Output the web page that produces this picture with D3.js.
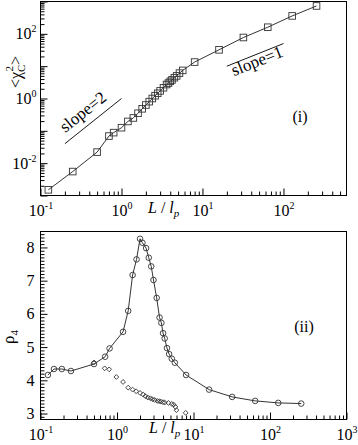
<!DOCTYPE html>
<html lang="en">
<head>
<meta charset="UTF-8">
<title>chi_C^2 and rho_4 vs L/l_p</title>
<script src="https://cdnjs.cloudflare.com/ajax/libs/d3/7.8.5/d3.min.js"></script>
<style>
  body { margin: 0; background: #fff; }
  svg { display: block; font-family: "Liberation Serif", "DejaVu Serif", serif; }
</style>
</head>
<body>
<svg width="358" height="445"></svg>
<script>
// panel (i): <chi_C^2> against L/l_p
var chiL = [0.125, 0.25, 0.5, 0.7, 0.8, 1.0, 1.2, 1.4, 1.6, 1.8, 2.0, 2.2, 2.4, 2.6, 2.8, 3.0, 3.3, 3.6, 3.8, 4.0, 4.2, 4.5, 4.8, 5.2, 5.7, 8, 16, 32, 64, 128, 256];
var chiVal = [0.0015, 0.0055, 0.022, 0.069, 0.088, 0.125, 0.195, 0.25, 0.35, 0.48, 0.63, 0.80, 1.0, 1.22, 1.45, 1.72, 2.15, 2.7, 3.0, 3.4, 3.75, 4.4, 5.0, 6.1, 7.4, 13.4, 32, 77, 160, 358, 728];

// panel (ii): rho_4, circles (joined) and diamonds
var rhoL = [0.125, 0.15, 0.19, 0.25, 0.5, 0.7, 0.8, 1.2, 1.4, 1.6, 1.8, 2.0, 2.15, 2.4, 2.6, 2.8, 3.0, 3.3, 3.6, 3.8, 4.0, 4.2, 4.5, 4.8, 5.2, 5.7, 8, 16, 32, 64, 128, 256];
var rhoVal = [4.16, 4.34, 4.34, 4.28, 4.49, 4.71, 4.96, 5.46, 6.09, 7.17, 7.64, 8.26, 8.14, 7.98, 7.69, 7.43, 7.02, 6.48, 5.89, 5.73, 5.42, 5.26, 4.97, 4.79, 4.65, 4.53, 4.16, 3.72, 3.50, 3.38, 3.32, 3.30];
var diaL = [0.5, 0.69, 0.79, 0.98, 1.2, 1.4, 1.6, 1.78, 2.0, 2.2, 2.35, 2.53, 2.73, 2.9, 3.1, 3.36, 3.55, 3.75, 4.0, 4.2, 4.7, 5.2, 5.5, 5.8, 6.0, 7.9];
var diaVal = [4.54, 4.36, 4.33, 4.10, 3.95, 3.78, 3.72, 3.67, 3.62, 3.57, 3.52, 3.48, 3.46, 3.43, 3.41, 3.38, 3.37, 3.36, 3.34, 3.33, 3.32, 3.29, 3.27, 3.20, 3.10, 3.02];

// guide lines (L, value) end points
var slope2 = [[0.2, 0.04], [1.0, 1.0]];
var slope1 = [[20, 10], [100, 50]];

// ticks
var xTicksTop = [0.1, 1, 10, 100];
var xTicksBot = [0.1, 1, 10, 100, 1000];
var yTicksTop = [1e-3, 1e-2, 1e-1, 1, 10, 100, 1000];
var yLabelsTop = [1e-2, 1, 100];
var yTicksBot = [3, 4, 5, 6, 7, 8];

var svg = d3.select("svg");

var xTop = d3.scaleLog().domain([0.1, 600]).range([40.5, 346.5]);
var yTop = d3.scaleLog().domain([1e-3, 1e3]).range([195.5, 1.5]);
var xBot = d3.scaleLog().domain([0.1, 1000]).range([40.5, 346.5]);
var yBot = d3.scaleLinear().domain([2.82, 8.48]).range([419.5, 231.5]);

function minorLog(scale) {
  var d = scale.domain(), out = [];
  for (var e = Math.floor(Math.log10(d[0])); e <= Math.ceil(Math.log10(d[1])); e++) {
    for (var m = 2; m <= 9; m++) {
      var v = m * Math.pow(10, e);
      if (v > d[0] && v < d[1]) out.push(v);
    }
  }
  return out;
}

function powText(t, d) {
  var e = Math.round(Math.log10(d));
  t.text(null);
  t.append("tspan").text("10");
  t.append("tspan").attr("font-size", 10).attr("dy", -7).text(e);
}

function xAxis(x, y0, majors) {
  var g = svg.append("g").attr("transform", "translate(0," + y0 + ")")
    .call(d3.axisBottom(x).tickValues(majors).tickSizeInner(-7).tickSizeOuter(0));
  g.attr("font-family", null).attr("font-size", 16);
  g.select(".domain").remove();
  g.selectAll("text").attr("y", 20).attr("dy", null).each(function (d) { powText(d3.select(this), d); });
  var m = svg.append("g").attr("transform", "translate(0," + y0 + ")")
    .call(d3.axisBottom(x).tickValues(minorLog(x)).tickSizeInner(-4).tickSizeOuter(0).tickFormat(""));
  m.select(".domain").remove();
}

function frame(x, y) {
  svg.append("rect")
    .attr("x", x.range()[0]).attr("y", y.range()[1])
    .attr("width", x.range()[1] - x.range()[0])
    .attr("height", y.range()[0] - y.range()[1])
    .attr("fill", "none").attr("stroke", "#000").attr("stroke-width", 1);
}

// ---------- panel (i)
frame(xTop, yTop);
xAxis(xTop, 195.5, xTicksTop);

var gy = svg.append("g").attr("transform", "translate(40.5,0)")
  .call(d3.axisLeft(yTop).tickValues(yTicksTop).tickSizeInner(-7).tickSizeOuter(0).tickPadding(4));
gy.attr("font-family", null).attr("font-size", 16);
gy.select(".domain").remove();
gy.selectAll("text").each(function (d) {
  if (yLabelsTop.indexOf(d) < 0) d3.select(this).text("");
  else powText(d3.select(this), d);
});
var gym = svg.append("g").attr("transform", "translate(40.5,0)")
  .call(d3.axisLeft(yTop).tickValues(minorLog(yTop)).tickSizeInner(-4).tickSizeOuter(0).tickFormat(""));
gym.select(".domain").remove();

var chiPts = chiL.map(function (l, i) { return [l, chiVal[i]]; });
svg.append("path").datum(chiPts)
  .attr("fill", "none").attr("stroke", "#000").attr("stroke-width", 0.8)
  .attr("d", d3.line().x(function (d) { return xTop(d[0]); }).y(function (d) { return yTop(d[1]); }));
svg.append("g").selectAll("rect").data(chiPts).enter().append("rect")
  .attr("x", function (d) { return xTop(d[0]) - 3.3; })
  .attr("y", function (d) { return yTop(d[1]) - 3.3; })
  .attr("width", 6.6).attr("height", 6.6)
  .attr("fill", "none").attr("stroke", "#333").attr("stroke-width", 0.9);

function guide(pts, tx, ty, label) {
  var p0 = [xTop(pts[0][0]), yTop(pts[0][1])], p1 = [xTop(pts[1][0]), yTop(pts[1][1])];
  svg.append("line").attr("x1", p0[0]).attr("y1", p0[1]).attr("x2", p1[0]).attr("y2", p1[1])
    .attr("stroke", "#000").attr("stroke-width", 0.9);
  var ang = Math.atan2(p1[1] - p0[1], p1[0] - p0[0]) * 180 / Math.PI;
  svg.append("text")
    .attr("transform", "translate(" + p0[0] + "," + p0[1] + ") rotate(" + ang + ")")
    .attr("x", tx).attr("y", ty).attr("font-size", 17).text(label);
}
guide(slope2, 7, -8, "slope=2");
guide(slope1, 3, 12, "slope=1");

svg.append("text").attr("x", 300).attr("y", 122).attr("text-anchor", "middle")
  .attr("font-size", 16).text("(i)");

function xLabel(x0, y0) {
  var t = svg.append("text").attr("x", x0).attr("y", y0).attr("font-size", 16);
  t.append("tspan").attr("font-style", "italic").text("L");
  t.append("tspan").text(" / ");
  t.append("tspan").attr("font-style", "italic").text("l");
  t.append("tspan").attr("font-style", "italic").attr("font-size", 11).attr("dy", 4).text("p");
}
xLabel(148, 213);

var yl = svg.append("text").attr("transform", "translate(21,72) rotate(-90)")
  .attr("text-anchor", "middle").attr("font-size", 16);
yl.append("tspan").text("<χ");
yl.append("tspan").attr("font-size", 11).attr("dy", 4).text("C");
yl.append("tspan").attr("font-size", 11).attr("dx", -7).attr("dy", -12).text("2");
yl.append("tspan").attr("dx", 1).attr("dy", 8).text(">");

// ---------- panel (ii)
frame(xBot, yBot);
xAxis(xBot, 419.5, xTicksBot);

var gb = svg.append("g").attr("transform", "translate(40.5,0)")
  .call(d3.axisLeft(yBot).tickValues(yTicksBot).tickSizeInner(-7).tickSizeOuter(0).tickPadding(6).tickFormat(d3.format("d")));
gb.attr("font-family", null).attr("font-size", 16);
gb.select(".domain").remove();
var yMinor = d3.range(29, 85).map(function (v) { return v / 10; })
  .filter(function (v) { return Math.abs(v - Math.round(v)) > 1e-6; });
var gbm = svg.append("g").attr("transform", "translate(40.5,0)")
  .call(d3.axisLeft(yBot).tickValues(yMinor).tickSizeInner(-4).tickSizeOuter(0).tickFormat(""));
gbm.select(".domain").remove();

var rhoPts = rhoL.map(function (l, i) { return [l, rhoVal[i]]; });
svg.append("path").datum(rhoPts)
  .attr("fill", "none").attr("stroke", "#000").attr("stroke-width", 0.8)
  .attr("d", d3.line().x(function (d) { return xBot(d[0]); }).y(function (d) { return yBot(d[1]); }));
svg.append("g").selectAll("circle").data(rhoPts).enter().append("circle")
  .attr("cx", function (d) { return xBot(d[0]); })
  .attr("cy", function (d) { return yBot(d[1]); })
  .attr("r", 2.8)
  .attr("fill", "none").attr("stroke", "#333").attr("stroke-width", 0.9);

var diaPts = diaL.map(function (l, i) { return [l, diaVal[i]]; });
svg.append("g").selectAll("path").data(diaPts).enter().append("path")
  .attr("transform", function (d) { return "translate(" + xBot(d[0]) + "," + yBot(d[1]) + ")"; })
  .attr("d", "M0,-2.4L2.4,0L0,2.4L-2.4,0Z")
  .attr("fill", "none").attr("stroke", "#333").attr("stroke-width", 0.9);

svg.append("text").attr("x", 304).attr("y", 332).attr("text-anchor", "middle")
  .attr("font-size", 16).text("(ii)");

xLabel(149, 433);

var rl = svg.append("text").attr("transform", "translate(14,337) rotate(-90)")
  .attr("text-anchor", "middle").attr("font-size", 17);
rl.append("tspan").text("ρ");
rl.append("tspan").attr("font-size", 11).attr("dy", 4).text("4");
</script>
</body>
</html>
